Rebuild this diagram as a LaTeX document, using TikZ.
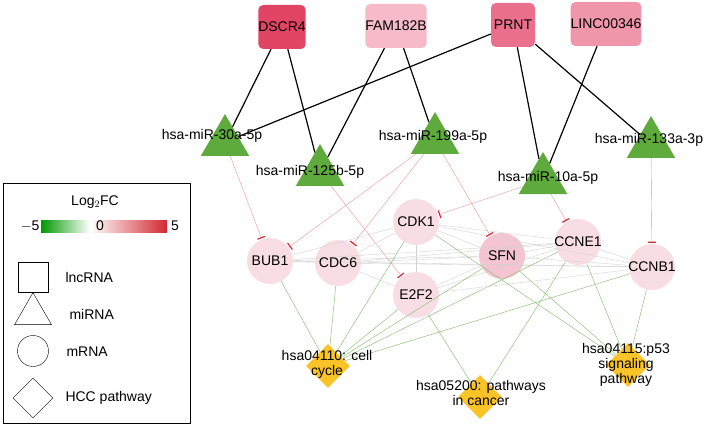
\documentclass[tikz,border=0pt]{standalone}
\usepackage{fontspec}
\setmainfont{Liberation Sans}
\usetikzlibrary{shapes,arrows.meta}
\definecolor{mygreen}{RGB}{94,170,60}
\definecolor{mypink}{RGB}{248,222,228}
\definecolor{mygold}{RGB}{250,196,40}
\definecolor{myred}{RGB}{210,40,50}
\begin{document}
\begin{tikzpicture}[x=1pt,y=-1pt,
  every node/.style={font=\fontsize{14}{15}\selectfont},
  lncnode/.style={rounded corners=5pt,minimum size=44pt,inner sep=0pt},
  minode/.style={isosceles triangle,isosceles triangle apex angle=60,shape border rotate=90,fill=mygreen,minimum height=42pt,inner sep=0pt},
  mnode/.style={circle,fill=mypink,minimum size=46pt,inner sep=0pt},
  pnode/.style={diamond,fill=mygold,minimum size=44pt,inner sep=0pt},
  lab/.style={fill=none,align=center,inner sep=0pt},
  lncedge/.style={black,line width=1.2pt},
  inhedge/.style={color={rgb,255:red,236;green,150;blue,160},-{Bar[width=8pt,line width=1.2pt,color=myred]},shorten >=1pt},
  ppiedge/.style={gray!35},
  pathedge/.style={mygreen!80}
]
\useasboundingbox (0,0) rectangle (709,425);

% the lncRNAs
\node[lncnode,fill={rgb,255:red,226;green,68;blue,100}] (dscr) at (282,27) {DSCR4};
\node[lncnode,fill={rgb,255:red,246;green,186;blue,200}] (fam) at (396,26) {FAM182B};
\node[lncnode,fill={rgb,255:red,234;green,112;blue,140}] (prnt) at (513,25) {PRNT};
\node[lncnode,fill={rgb,255:red,240;green,150;blue,170}] (linc) at (606,24) {LINC00346};

% the mRNAs
\node[mnode] (cdk) at (416,222) {};
\node[mnode] (bub) at (270,261) {};
\node[mnode] (cdc) at (338,263) {};
\node[mnode,fill={rgb,255:red,244;green,196;blue,210}] (sfn) at (502,256) {};
\node[mnode] (ccne) at (578,242) {};
\node[mnode] (ccnb) at (652,267) {};
\node[mnode] (e2f) at (416,295) {};

% the pathways
\node[pnode] (cyc) at (328,366) {};
\node[pnode] (can) at (480,397) {};
\node[pnode] (p53) at (628,365) {};

% the edges between mRNAs
\foreach \a/\b in {bub/cdc,bub/cdk,bub/sfn,bub/ccne,bub/ccnb,cdc/cdk,cdc/sfn,cdc/ccne,cdc/ccnb,cdc/e2f,
  cdk/e2f,cdk/sfn,cdk/ccne,cdk/ccnb,sfn/ccne,sfn/ccnb,ccne/ccnb,e2f/ccne,e2f/ccnb,e2f/sfn}
  \draw[ppiedge] (\a) -- (\b);

% the edges to pathways
\foreach \a/\b in {bub/cyc,cdc/cyc,cdk/cyc,e2f/cyc,sfn/cyc,ccne/cyc,ccnb/cyc,
  e2f/can,ccne/can,cdk/p53,sfn/p53,ccne/p53,ccnb/p53}
  \draw[pathedge] (\a) -- (\b);

% the miRNAs
\node[minode] (mi30) at (225,142) {};
\node[minode] (mi125) at (320,172) {};
\node[minode] (mi199) at (435,140) {};
\node[minode] (mi10) at (543,180) {};
\node[minode] (mi133) at (651,144) {};

% the lncRNA edges
\foreach \a/\b in {dscr/mi30,dscr/mi125,fam/mi125,fam/mi199,prnt/mi30,prnt/mi10,prnt/mi133,linc/mi10}
  \draw[lncedge] (\a) -- (\b);

% the inhibiting edges
\foreach \a/\b in {mi30/bub,mi125/e2f,mi199/bub,mi199/cdc,mi199/sfn,mi10/cdk,mi10/ccne,mi133/ccnb}
  \draw[inhedge] (\a) -- (\b);

% the labels
\node[lab] at (212,136) {hsa-miR-30a-5p};
\node[lab] at (310,172) {hsa-miR-125b-5p};
\node[lab] at (433,137) {hsa-miR-199a-5p};
\node[lab] at (548,178) {hsa-miR-10a-5p};
\node[lab] at (649,140) {hsa-miR-133a-3p};
\node[lab] at (cdk) {CDK1};
\node[lab] at (bub) {BUB1};
\node[lab] at (cdc) {CDC6};
\node[lab] at (sfn) {SFN};
\node[lab] at (ccne) {CCNE1};
\node[lab] at (ccnb) {CCNB1};
\node[lab] at (e2f) {E2F2};
\node[lab] at (327,364) {hsa04110: cell\\cycle};
\node[lab] at (481,393) {hsa05200: pathways\\in cancer};
\node[lab] at (626,365) {hsa04115:p53\\signaling\\pathway};

% the legend
\draw[thick] (3,183) rectangle (190,423);
\node (fc) at (95,202) {Log$_2$FC};
\shade[left color=green!60!black,right color=white] (41,220) rectangle (90,232);
\shade[left color=white,right color=myred] (90,220) rectangle (167,232);
\node (lo) at (30,226) {$-$5};
\node (mid) at (100,226) {0};
\node (hi) at (175,226) {5};
\node[draw,minimum size=30pt,inner sep=0pt] (ksq) at (33,277) {};
\node[anchor=west] at (62,277) {lncRNA};
\node[draw,isosceles triangle,isosceles triangle apex angle=60,shape border rotate=90,minimum height=32pt,inner sep=0pt] (ktri) at (33,314) {};
\node[anchor=west] at (66,314) {miRNA};
\node[draw,circle,minimum size=31pt,inner sep=0pt] (kcirc) at (33,351) {};
\node[anchor=west] at (63,352) {mRNA};
\node[draw,diamond,minimum size=40pt,inner sep=0pt] (kdia) at (33,398) {};
\node[anchor=west] at (62,398) {HCC pathway};
\end{tikzpicture}
\end{document}
